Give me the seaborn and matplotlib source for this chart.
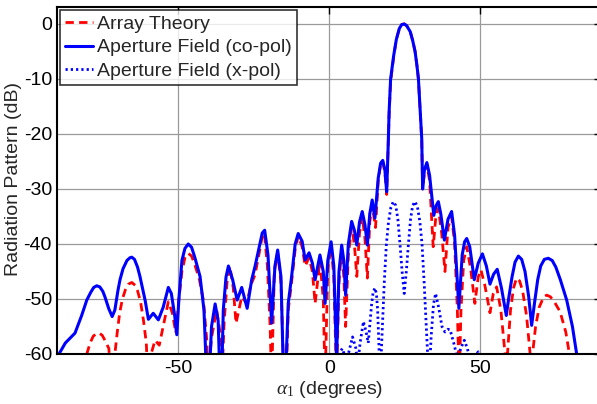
import matplotlib
matplotlib.use("Agg")
import matplotlib.pyplot as plt
import seaborn as sns
import pandas as pd

# ---- data: (angle in degrees, pattern in dB) ----
copol_points = [
    (-89.5, -60), (-87.4, -58), (-84.2, -56.2), (-82, -53), (-80.3, -50.2), (-79, -48.8),
    (-78, -47.9), (-77, -47.6), (-76, -47.8), (-75, -48.6), (-74.3, -49.6), (-73, -51.8),
    (-71.9, -53.2), (-71, -52), (-70, -48.5), (-69.3, -46.5), (-68.3, -44.5), (-67, -43),
    (-66, -42.5), (-65.4, -42.4), (-64.5, -42.8), (-63.5, -44.2), (-62.7, -45.9), (-61, -50.2),
    (-59.9, -53.7), (-58.3, -52.6), (-56.6, -53.8), (-55, -51.5), (-53.3, -47.9), (-52.3, -49),
    (-51.2, -53), (-50.5, -56.5), (-49.8, -50), (-48.8, -43), (-47.8, -40.8), (-46.7, -40),
    (-45.6, -40.6), (-44.5, -42.5), (-42.8, -45.9), (-41.5, -52), (-40.2, -70), (-39, -55),
    (-37.8, -50.9), (-36.8, -54), (-35.9, -70), (-35.1, -52), (-34.2, -46), (-33.4, -44),
    (-32, -46.5), (-30.5, -50.2), (-29, -47.9), (-27.2, -51.7), (-25.7, -46.5), (-24.6, -44.1),
    (-23, -40), (-22.2, -38), (-21.4, -37.5), (-20.3, -42), (-19.1, -54.4), (-18, -44),
    (-17.1, -41.1), (-16, -46), (-14.9, -70), (-13.6, -50.8), (-12.5, -46), (-11.3, -40),
    (-10.3, -38.1), (-9, -39.5), (-8, -42.9), (-6.7, -41.6), (-5.6, -43.5), (-4.7, -46.5),
    (-3.1, -42), (-2, -45), (-1.4, -50.8), (-0.5, -43), (0.6, -39.6), (1.5, -44), (2.4, -61),
    (3.2, -45), (4.1, -40.2), (4.8, -43), (5.4, -49.3), (6.3, -40), (7.4, -35.9), (8.3, -37.5),
    (9.1, -40.2), (10, -36), (10.9, -34.1), (11.8, -36.5), (12.6, -40.2), (13.4, -34.5),
    (14.2, -32), (15.1, -35.3), (16.2, -28), (17.0, -25.3), (17.7, -24.8), (18.4, -26.5),
    (19.0, -30.5), (19.5, -22), (19.8, -16), (20.3, -10), (21.3, -5.8), (22.2, -2.8),
    (23.2, -0.8), (24.0, -0.1), (24.8, 0), (25.6, -0.3), (26.8, -1.4), (27.6, -3), (28.4, -5),
    (29.0, -7.5), (29.5, -9.9), (30.0, -14.7), (30.6, -20.8), (30.9, -30), (31.5, -26.5),
    (32.3, -25.2), (33.2, -27.5), (34.6, -34.8), (35.4, -33), (36.1, -32.3), (36.9, -34.5),
    (38.1, -39.3), (39.3, -35.5), (40.5, -34.1), (41.5, -38.5), (42.9, -51.7), (44, -42),
    (44.8, -39.6), (45.5, -39), (46.5, -40.5), (48, -46.5), (49.3, -43.5), (50.7, -41.8),
    (52, -44), (53.2, -47.3), (54.4, -45.5), (55.6, -44.6), (57, -48), (58.6, -53),
    (59.5, -49.5), (60.5, -46), (61.5, -43.3), (62.6, -42.2), (63.7, -42.8), (64.8, -45),
    (66, -49.5), (67, -54.8), (68, -50.5), (69, -46.5), (70, -44), (71.2, -42.8), (72.5, -42.6),
    (73.8, -43), (75, -44.2), (76.5, -46.5), (78.6, -50.2), (80.5, -55), (81.9, -60), (82.5, -63),
]

theory_points = [
    (-81, -65), (-80.3, -60), (-79.2, -58), (-78.2, -56.8), (-77.2, -56.3), (-76.2, -56.2),
    (-75.2, -56.6), (-74.2, -57.6), (-73, -59), (-72.2, -65), (-71, -60), (-70.2, -56),
    (-69.4, -52.5), (-68.5, -50), (-67.5, -48.3), (-66.5, -47.3), (-65.4, -47), (-64.3, -47.5),
    (-63.5, -48.5), (-62.5, -50.5), (-61.5, -54), (-60.6, -58), (-60, -65), (-59, -60),
    (-57.7, -57.5), (-56.3, -58.4), (-55, -55), (-53.3, -50.5), (-52, -52.5), (-50.8, -56.2),
    (-49.8, -50), (-48.8, -45), (-47.8, -42.5), (-46.7, -41.7), (-45.6, -42.2), (-44.5, -43.8),
    (-43, -46.5), (-41.7, -50.2), (-40.5, -58), (-40.2, -65), (-39, -57), (-37.3, -52),
    (-36.2, -56), (-35.6, -65), (-34.8, -54), (-33.8, -46.5), (-32.9, -44.1), (-31.8, -48),
    (-30.9, -54.4), (-29, -49.6), (-27.3, -50.8), (-26, -47.5), (-24.6, -45.6), (-23, -41),
    (-22.2, -38.5), (-21.5, -38), (-20.5, -44), (-19.6, -55), (-19.1, -65), (-18.2, -45),
    (-17.1, -41.5), (-16, -47), (-15, -65), (-14, -60), (-13.6, -52), (-12.5, -47),
    (-11.3, -41), (-10.3, -38.5), (-9, -40.5), (-8, -44), (-6.7, -42.5), (-5.6, -45),
    (-4.7, -50.8), (-3.1, -43), (-2, -50), (-1.4, -65), (-0.5, -44.5), (0.6, -40.5), (1.5, -46),
    (2.4, -65), (3.2, -47), (4.1, -41), (4.8, -46), (5.4, -55), (6.3, -42), (7.4, -37),
    (8.3, -40), (9.1, -45.9), (10, -38), (10.9, -35), (11.8, -39), (12.6, -46.2), (13.4, -36),
    (14.2, -33), (15.3, -37), (16.2, -28.5), (17.0, -25.5), (17.7, -25), (18.4, -27),
    (19.0, -31), (19.5, -22), (19.8, -16.5), (20.3, -10.5), (21.3, -6), (22.2, -2.8),
    (23.2, -0.8), (24.0, -0.1), (24.8, 0), (25.6, -0.3), (26.8, -1.4), (27.6, -3), (28.4, -5),
    (29.0, -7.5), (29.5, -10), (30.0, -15), (30.6, -21), (30.9, -30), (31.5, -27),
    (32.3, -25.5), (33.2, -28.5), (34.4, -40.5), (35.2, -35.5), (36.1, -33.5), (37.2, -38),
    (38.3, -45), (39.3, -37), (40.5, -35), (41.5, -40), (42.4, -52), (43, -65), (43.6, -52),
    (44.5, -43), (45.5, -40.5), (46.8, -44.5), (48.2, -50.8), (49.3, -46), (50.2, -44.7),
    (51.5, -47.5), (53.2, -52.5), (54.3, -49), (55.4, -47.8), (56.8, -52), (58.2, -60),
    (58.6, -65), (59, -60), (60, -52), (61, -48), (62, -46.2), (63, -46.7), (64, -48.5),
    (65.3, -53), (66.5, -60), (66.9, -65), (67.3, -60), (68.3, -55), (69.5, -51.5), (71, -49.6),
    (72, -49.3), (73.2, -49.6), (74.5, -50.5), (76.4, -52.3), (78.3, -56), (79.5, -60), (80, -65),
]

xpol_points = [
    (2.8, -65), (3.2, -60), (4.3, -59), (5.5, -61), (6.3, -60), (7.7, -56.9), (8.8, -59),
    (9.4, -62), (10.2, -58), (11.3, -54.1), (12.2, -56), (12.9, -58), (14, -51), (14.5, -48.8),
    (15.1, -48), (15.6, -49), (16.0, -52), (16.4, -58), (16.8, -65), (17.5, -56), (18.2, -47),
    (18.9, -40), (19.6, -36), (20.4, -33.3), (21.2, -32.3), (22, -33), (22.7, -35.5), (23.4, -40),
    (24.1, -45), (24.8, -49), (25.5, -45), (26.2, -40), (26.9, -35.5), (27.6, -33), (28.4, -32.3),
    (29.2, -33.3), (30, -36), (30.7, -40), (31.4, -47), (32.2, -56), (33, -65), (33.7, -57),
    (34.5, -51), (35.2, -49), (36.2, -51.5), (37.3, -55), (38.3, -56), (39.3, -55.5),
    (40, -55.6), (41.2, -58), (42.5, -61), (43.5, -59), (44.7, -57.5), (45.7, -59), (46.6, -61),
    (47.8, -61), (49.3, -59.6), (50.3, -61),
]

labels = ["Array Theory", "Aperture Field (co-pol)", "Aperture Field (x-pol)"]
x_ticks = [-50, 0, 50]
y_ticks = [-60, -50, -40, -30, -20, -10, 0]

# ---- style ----
sns.set_theme(style="white")
plt.rcParams["font.family"] = ["Liberation Sans", "DejaVu Sans"]
plt.rcParams["axes.unicode_minus"] = False
plt.rcParams["mathtext.fontset"] = "custom"
plt.rcParams["mathtext.rm"] = "Liberation Serif"
plt.rcParams["mathtext.it"] = "Liberation Serif:italic"

fig = plt.figure(figsize=(5.97, 4.04), dpi=100)
ax = fig.add_axes([0.0963, 0.1238, 0.9106, 0.8577])


def frame(points):
    xs, ys = zip(*points)
    return pd.DataFrame({"x": xs, "y": ys})


sns.lineplot(data=frame(theory_points), x="x", y="y", ax=ax, color=(1, 0, 0), lw=2.0,
             sort=False, estimator=None, label=labels[0])
ax.lines[-1].set_linestyle((0, (3.0, 1.9)))
sns.lineplot(data=frame(copol_points), x="x", y="y", ax=ax, color=(0, 0, 1), lw=2.2,
             sort=False, estimator=None, label=labels[1])
sns.lineplot(data=frame(xpol_points), x="x", y="y", ax=ax, color=(0, 0, 1), lw=2.0,
             sort=False, estimator=None, label=labels[2])
ax.lines[-1].set_linestyle((0, (0.8, 1.1)))

ax.set_xlim(-90, 90)
ax.set_ylim(-60, 3)
ax.set_xticks(x_ticks)
ax.set_yticks(y_ticks)
ax.grid(True, color="#9a9a9a", lw=0.9)
ax.set_axisbelow(True)
for s in ax.spines.values():
    s.set_color("black")
    s.set_linewidth(1.5)
ax.tick_params(direction="in", length=5, width=1, top=True, right=True,
               labelsize=14, colors="black", pad=4)

ax.set_xlabel(r"$\alpha_1$ (degrees)", fontsize=14, labelpad=2)
ax.set_ylabel("Radiation Pattern (dB)", fontsize=14, labelpad=0)
ax.yaxis.set_label_coords(-0.066, 0.505)

leg = ax.legend(loc="upper left", fontsize=14, frameon=True, fancybox=False,
                borderaxespad=0.15, handlelength=1.45, handletextpad=0.2,
                borderpad=0.25, labelspacing=0.3, edgecolor="black")
leg.get_frame().set_linewidth(1.2)

fig.savefig("out.png", dpi=100)
